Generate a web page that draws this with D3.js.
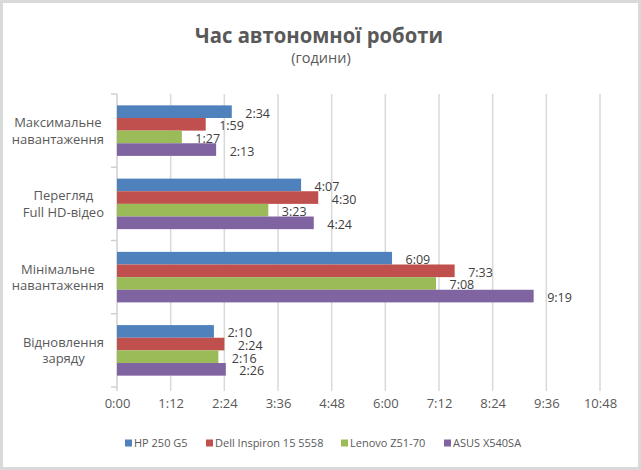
<!DOCTYPE html>
<html>
<head>
<meta charset="utf-8">
<script src="https://cdn.jsdelivr.net/npm/d3@7"></script>
<style>
  html, body { margin: 0; padding: 0; background: #fff; }
  svg { display: block; font-family: "Open Sans", "Noto Sans", sans-serif; }
</style>
</head>
<body>
<svg id="chart" width="641" height="470"></svg>
<script>
// ---- data (minutes) ----
const categories = [
  ["Максимальне", "навантаження"],
  ["Перегляд", "Full HD-відео"],
  ["Мінімальне", "навантаження"],
  ["Відновлення", "заряду"]
];
const seriesNames = ["HP 250 G5", "Dell Inspiron 15 5558", "Lenovo Z51-70", "ASUS X540SA"];
const hpValues     = [154, 247, 369, 130];
const dellValues   = [119, 270, 453, 144];
const lenovoValues = [87, 203, 428, 136];
const asusValues   = [133, 264, 559, 146];
const tickValues = [0, 72, 144, 216, 288, 360, 432, 504, 576, 648];
const tickLabels = ["0:00", "1:12", "2:24", "3:36", "4:48", "6:00", "7:12", "8:24", "9:36", "10:48"];
const colors = ["#4f81bd", "#c0504d", "#9bbb59", "#8064a2"];
const titleText = "Час автономної роботи";
const subtitleText = "(години)";

const seriesValues = [hpValues, dellValues, lenovoValues, asusValues];
const fmt = m => Math.floor(m / 60) + ":" + String(m % 60).padStart(2, "0");

const svg = d3.select("#chart");
const W = 641, H = 470;

// border
svg.append("rect").attr("x", 1.5).attr("y", 1.5).attr("width", W - 3).attr("height", H - 3)
  .attr("fill", "#fff").attr("stroke", "#d9d9d9").attr("stroke-width", 3);

// title
svg.append("text").attr("x", 319).attr("y", 43).attr("text-anchor", "middle")
  .attr("font-size", 21).attr("font-weight", 700).attr("fill", "#595959")
  .attr("textLength", 248).attr("lengthAdjust", "spacingAndGlyphs")
  .text(titleText);
svg.append("text").attr("x", 321).attr("y", 63).attr("text-anchor", "middle")
  .attr("font-size", 14.5).attr("fill", "#595959").text(subtitleText);

// scales
const x = d3.scaleLinear().domain([0, 648]).range([117, 600]);
const y = d3.scaleBand().domain(d3.range(categories.length)).range([94, 387])
  .paddingInner(0.31).paddingOuter(0.155);
const ys = d3.scaleBand().domain(d3.range(seriesNames.length)).range([0, y.bandwidth()]);

// gridlines
svg.append("g").selectAll("line").data(tickValues.slice(1)).join("line")
  .attr("x1", d => x(d)).attr("x2", d => x(d)).attr("y1", 94).attr("y2", 391)
  .attr("stroke", "#d9d9d9").attr("stroke-width", 1.5);

// x axis labels
const xAxis = d3.axisBottom(x).tickValues(tickValues)
  .tickFormat((d, i) => tickLabels[i]).tickSize(0).tickPadding(0);
const gx = svg.append("g").attr("transform", "translate(0,399)").call(xAxis);
gx.select(".domain").remove();
gx.selectAll("text").attr("font-size", 13).attr("fill", "#595959")
  .attr("font-family", "\"Open Sans\", sans-serif").attr("dy", "0.71em");

// y axis line + ticks at category boundaries
const boundaries = d3.range(categories.length + 1).map(i => 94 + i * (387 - 94) / categories.length);
svg.append("line").attr("x1", 117).attr("x2", 117).attr("y1", 94).attr("y2", 391)
  .attr("stroke", "#d0d0d0").attr("stroke-width", 1.5);
svg.append("g").selectAll("line").data(boundaries).join("line")
  .attr("x1", 111).attr("x2", 117).attr("y1", d => d).attr("y2", d => d)
  .attr("stroke", "#d0d0d0").attr("stroke-width", 1.5);

// bars
const flat = [];
categories.forEach((c, ci) => seriesValues.forEach((vals, si) => flat.push({ ci, si, v: vals[ci] })));
svg.append("g").selectAll("rect").data(flat).join("rect")
  .attr("x", x(0)).attr("y", d => y(d.ci) + ys(d.si))
  .attr("width", d => x(d.v) - x(0)).attr("height", ys.bandwidth())
  .attr("fill", d => colors[d.si]);

// data labels
svg.append("g").selectAll("text").data(flat).join("text")
  .attr("x", d => x(d.v) + 13.5).attr("y", d => y(d.ci) + ys(d.si) + ys.bandwidth() / 2 + 1.5)
  .attr("dy", "0.36em").attr("font-size", 12.5).attr("fill", "#404040")
  .text(d => fmt(d.v));

// category labels
categories.forEach((lines, ci) => {
  const g = svg.append("g");
  const cy = y(ci) + y.bandwidth() / 2;
  const texts = lines.map((l, li) => g.append("text")
    .attr("y", cy + (li - (lines.length - 1) / 2) * 16.5).attr("dy", "0.36em")
    .attr("text-anchor", "middle").attr("font-size", 13).attr("fill", "#595959").text(l));
  const maxW = d3.max(texts, t => t.node().getComputedTextLength());
  texts.forEach(t => t.attr("x", 104 - maxW / 2));
});

// legend
const legendX = [125, 206, 341, 444];
const lg = svg.append("g").selectAll("g").data(seriesNames).join("g")
  .attr("transform", (d, i) => `translate(${legendX[i]},443)`);
lg.append("rect").attr("x", 0).attr("y", -3.5).attr("width", 7).attr("height", 7)
  .attr("fill", (d, i) => colors[i]);
lg.append("text").attr("x", 9).attr("dy", "0.36em").attr("font-size", 11)
  .attr("fill", "#595959").text(d => d);
</script>
</body>
</html>
